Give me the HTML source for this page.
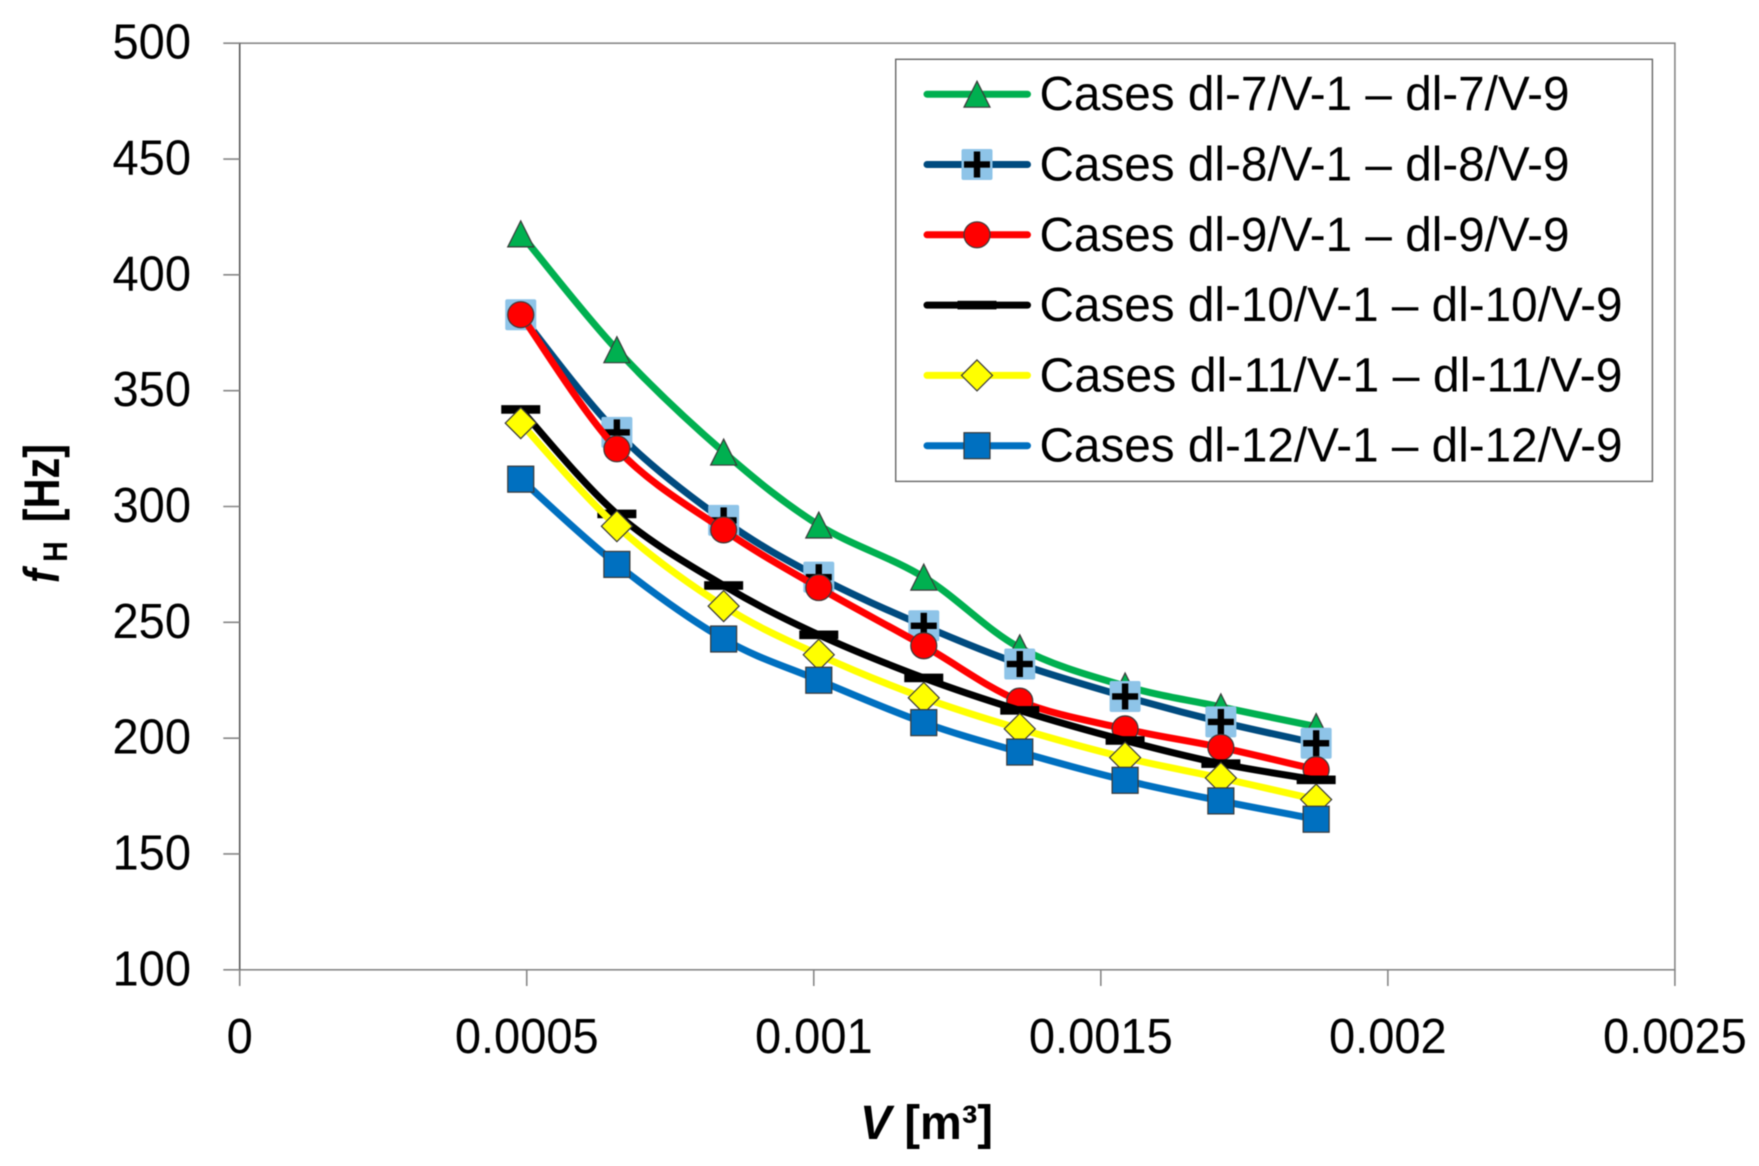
<!DOCTYPE html>
<html lang="en">
<head>
<meta charset="utf-8">
<title>fH vs V chart</title>
<style>
html,body{margin:0;padding:0;background:#fff;width:1759px;height:1166px;overflow:hidden}
svg{display:block;filter:blur(0.5px)}
text{font-family:"Liberation Sans",sans-serif;fill:#000}
</style>
</head>
<body>
<svg id="chart" xmlns="http://www.w3.org/2000/svg" width="1759" height="1166" viewBox="0 0 1759 1166"></svg>
<script>
const xTicks = [0, 0.0005, 0.001, 0.0015, 0.002, 0.0025];
const xTickLabels = ["0", "0.0005", "0.001", "0.0015", "0.002", "0.0025"];
const yTicks = [100, 150, 200, 250, 300, 350, 400, 450, 500];
const volumes = [0.00048955, 0.000657, 0.000843, 0.0010087, 0.0011916, 0.0013588, 0.0015423, 0.0017091, 0.0018751];
const dl7 = [417.7, 367.7, 323.5, 292, 269.5, 239, 222.5, 213.5, 205];
const dl8 = [382.8, 332, 294, 269.5, 248.5, 232, 218, 207, 197.8];
const dl9 = [382.8, 324.9, 289.9, 265, 239.9, 216, 204, 196, 186.4];
const dl10 = [341.9, 296.8, 265.9, 244.6, 226, 212, 199, 189, 182];
const dl11 = [336, 291.5, 257, 236, 217.4, 204, 191.6, 182.8, 173.5];
const dl12 = [311.8, 275, 242.8, 225, 206.7, 194, 181.8, 172.9, 165];
const legendLabels = [
  "Cases dl-7/V-1 – dl-7/V-9",
  "Cases dl-8/V-1 – dl-8/V-9",
  "Cases dl-9/V-1 – dl-9/V-9",
  "Cases dl-10/V-1 – dl-10/V-9",
  "Cases dl-11/V-1 – dl-11/V-9",
  "Cases dl-12/V-1 – dl-12/V-9"
];
const seriesValues = [dl7, dl8, dl9, dl10, dl11, dl12];
const seriesColors = ["#00B050", "#004B7F", "#FF0000", "#000000", "#FFFF00", "#0070C0"];
const seriesMarkers = ["triangle", "plus", "circle", "dash", "diamond", "square"];
const seriesKeys = ["dl-7", "dl-8", "dl-9", "dl-10", "dl-11", "dl-12"];

const NS = "http://www.w3.org/2000/svg";
const svg = document.getElementById("chart");
const plot = {left: 239.7, right: 1674.9, top: 43.2, bottom: 969.8};
const xMax = 0.0025, yMin = 100, yMax = 500;
const xScale = v => plot.left + (v / xMax) * (plot.right - plot.left);
const yScale = v => plot.bottom - ((v - yMin) / (yMax - yMin)) * (plot.bottom - plot.top);

function mk(parent, tag, attrs) {
  const el = document.createElementNS(NS, tag);
  for (const k in attrs) el.setAttribute(k, attrs[k]);
  parent.appendChild(el);
  return el;
}

function smoothPath(pts) {
  let d = "M" + pts[0][0] + " " + pts[0][1];
  for (let i = 0; i < pts.length - 1; i++) {
    const p0 = pts[Math.max(i - 1, 0)], p1 = pts[i], p2 = pts[i + 1], p3 = pts[Math.min(i + 2, pts.length - 1)];
    const c1x = p1[0] + (p2[0] - p0[0]) / 6, c1y = p1[1] + (p2[1] - p0[1]) / 6;
    const c2x = p2[0] - (p3[0] - p1[0]) / 6, c2y = p2[1] - (p3[1] - p1[1]) / 6;
    d += " C" + c1x + " " + c1y + " " + c2x + " " + c2y + " " + p2[0] + " " + p2[1];
  }
  return d;
}

function drawMarker(parent, type, cx, cy, color) {
  const g = mk(parent, "g", {});
  const edge = {stroke: "#3a3a3a", "stroke-width": 1.2};
  if (type === "triangle") {
    mk(g, "polygon", Object.assign({points: (cx) + "," + (cy - 13) + " " + (cx + 13) + "," + (cy + 13) + " " + (cx - 13) + "," + (cy + 13), fill: color}, edge));
  } else if (type === "plus") {
    mk(g, "rect", {x: cx - 15.5, y: cy - 15.5, width: 31, height: 31, rx: 2, fill: "#8EC4E8"});
    mk(g, "rect", {x: cx - 13, y: cy - 3.2, width: 26, height: 6.4, fill: "#000"});
    mk(g, "rect", {x: cx - 3.2, y: cy - 13, width: 6.4, height: 26, fill: "#000"});
  } else if (type === "circle") {
    mk(g, "circle", Object.assign({cx: cx, cy: cy, r: 13, fill: color}, edge));
  } else if (type === "dash") {
    mk(g, "rect", {x: cx - 19.5, y: cy - 4.3, width: 39, height: 8.6, fill: "#000"});
  } else if (type === "diamond") {
    mk(g, "polygon", Object.assign({points: cx + "," + (cy - 15.5) + " " + (cx + 15.5) + "," + cy + " " + cx + "," + (cy + 15.5) + " " + (cx - 15.5) + "," + cy, fill: color}, edge));
  } else {
    mk(g, "rect", Object.assign({x: cx - 13, y: cy - 13, width: 26, height: 26, fill: color}, edge));
  }
  return g;
}

// Plot frame
const frame = mk(svg, "rect", {x: plot.left, y: plot.top, width: plot.right - plot.left, height: plot.bottom - plot.top, fill: "#fff", stroke: "#868686", "stroke-width": 1.6});



// Y axis
const yAxis = mk(svg, "g", {});


mk(yAxis, "line", {x1: plot.left, x2: plot.left, y1: plot.top, y2: plot.bottom, stroke: "#555", "stroke-width": 1.4});
yTicks.forEach(v => {
  const y = yScale(v);
  const tick = mk(yAxis, "line", {x1: 223.3, x2: plot.left, y1: y, y2: y, stroke: "#868686", "stroke-width": 1.6});
  
  
  const label = mk(yAxis, "text", {transform: "translate(191," + (y + 15.5) + ") scale(0.96,1)", "text-anchor": "end", "font-size": 49});
  
  
  label.textContent = String(v);
});

// X axis
const xAxis = mk(svg, "g", {});


xTicks.forEach((v, i) => {
  const x = xScale(v);
  const tick = mk(xAxis, "line", {x1: x, x2: x, y1: plot.bottom, y2: 986, stroke: "#868686", "stroke-width": 1.6});
  
  
  const label = mk(xAxis, "text", {transform: "translate(" + x + ",1053) scale(0.96,1)", "text-anchor": "middle", "font-size": 49});
  
  
  label.textContent = xTickLabels[i];
});

// Axis titles
const yTitle = mk(svg, "text", {transform: "translate(59,583) rotate(-90) scale(0.83,1)", "font-size": 50, "font-weight": "bold"});


const yF = mk(yTitle, "tspan", {"font-style": "italic"});
yF.textContent = "f";
const yH = mk(yTitle, "tspan", {"font-size": 34, dy: 8, dx: 9});
yH.textContent = "H";
const yRest = mk(yTitle, "tspan", {dy: -8, dx: 23});
yRest.textContent = "[Hz]";

const xTitle = mk(svg, "text", {x: 860, y: 1139, "font-size": 48, "font-weight": "bold", textLength: 133, lengthAdjust: "spacingAndGlyphs"});


const xV = mk(xTitle, "tspan", {"font-style": "italic"});
xV.textContent = "V";
const xUnit = mk(xTitle, "tspan", {});
xUnit.textContent = " [m³]";

// Series
seriesValues.forEach((vals, s) => {
  const group = mk(svg, "g", {});
  
  
  const pts = vals.map((v, i) => [xScale(volumes[i]), yScale(v)]);
  const line = mk(group, "path", {d: smoothPath(pts), fill: "none", stroke: seriesColors[s], "stroke-width": 7, "stroke-linecap": "round", "stroke-linejoin": "round"});
  
  
  pts.forEach(p => {
    const m = drawMarker(group, seriesMarkers[s], p[0], p[1], seriesColors[s]);
    
    
  });
});

// Legend
const legend = mk(svg, "g", {});


mk(legend, "rect", {x: 895.7, y: 59.3, width: 756.7, height: 422.1, fill: "#fff", stroke: "#666", "stroke-width": 1.4});
const legendRowYs = legendLabels.map((_, i) => 94.2 + i * 70.3);
legendLabels.forEach((txt, i) => {
  const y = legendRowYs[i];
  const entry = mk(legend, "g", {});
  
  
  mk(entry, "line", {x1: 927, x2: 1027.5, y1: y, y2: y, stroke: seriesColors[i], "stroke-width": 7, "stroke-linecap": "round"});
  drawMarker(entry, seriesMarkers[i], 977, y, seriesColors[i]);
  const label = mk(entry, "text", {x: 1039.5, y: y + 16, "font-size": 48, textLength: i < 3 ? 530 : 583, lengthAdjust: "spacingAndGlyphs"});
  
  
  label.textContent = txt;
});
</script>
</body>
</html>
